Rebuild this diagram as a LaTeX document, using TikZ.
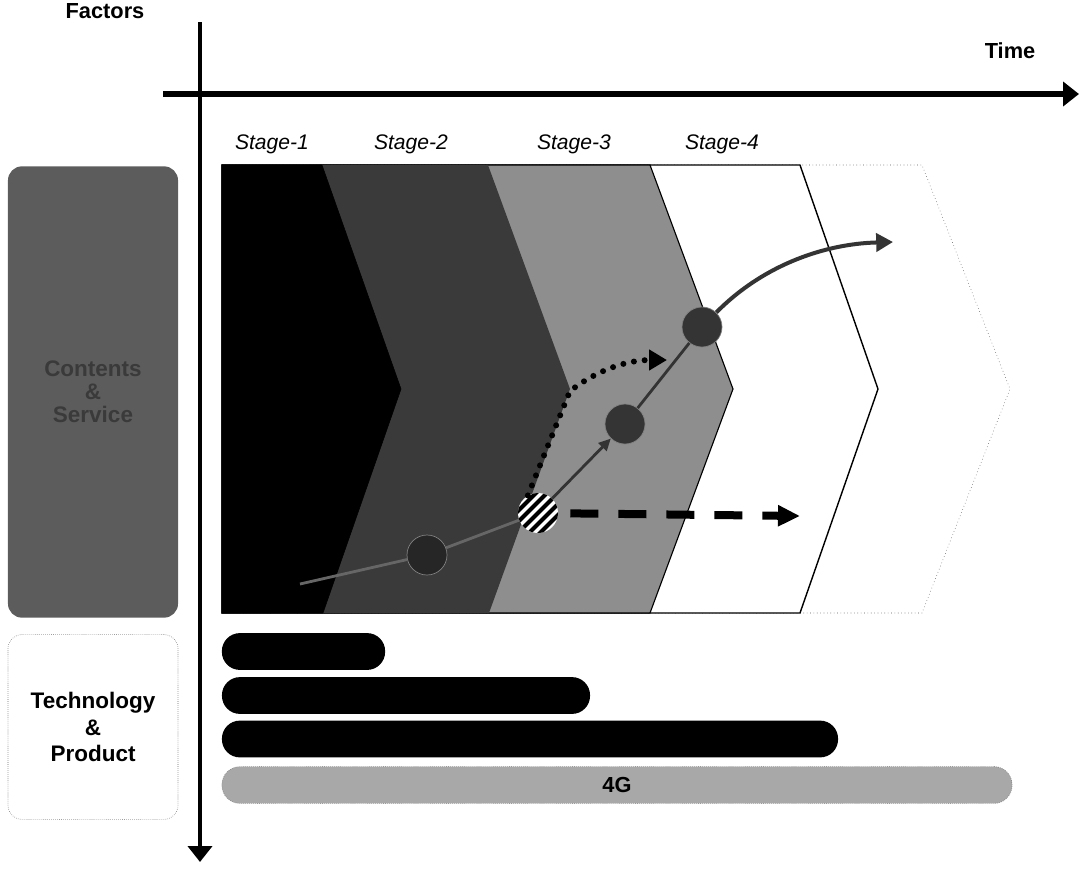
\documentclass[tikz,border=0pt]{standalone}
\usepackage{fontspec}
\setmainfont{Liberation Sans}
\usetikzlibrary{arrows.meta}
\definecolor{boxgray}{RGB}{92,92,92}
\definecolor{txtgray}{RGB}{58,58,58}
\definecolor{stagetwo}{RGB}{58,58,58}
\definecolor{stagethree}{RGB}{142,142,142}
\definecolor{dotgray}{RGB}{52,52,52}
\definecolor{bargray}{RGB}{168,168,168}

\begin{document}
\begin{tikzpicture}[x=0.025cm, y=-0.025cm, font=\fontsize{15}{18}\selectfont,
  axis/.style={line width=0.15cm, -{Triangle[length=0.4cm,width=0.6cm]}},
  lbl/.style={font=\fontsize{15.5}{18}\selectfont\bfseries, anchor=base},
  stg/.style={font=\fontsize{15}{18}\selectfont\itshape, anchor=base},
  side/.style={rounded corners=0.35cm, minimum width=4.25cm, align=center, inner sep=0pt},
  dot/.style={circle, fill=dotgray, draw=black!50, line width=0.5pt, minimum size=1cm, inner sep=0pt},
  hatch/.style={circle, fill=white, minimum size=1cm, inner sep=0pt,
    path picture={\foreach \k in {-33,-22,...,33}
      \draw[line width=0.1cm, shift={(path picture bounding box.center)}] (\k-30,30) -- (\k+30,-30);}},
  bar/.style={fill=black, rounded corners=0.45cm, minimum height=0.92cm, inner sep=0pt},
  link/.style={line width=0.07cm, draw=black!80},
  faint/.style={line width=0.07cm, draw=black!60},
  dots/.style={line width=0.15cm, line cap=round, dash pattern=on 0pt off 0.27cm, -{Triangle[length=0.45cm,width=0.5cm]}},
  dsh/.style={line width=0.2cm, dash pattern=on 0.7cm off 0.5cm, -{Triangle[length=0.55cm,width=0.5cm]}}]
\useasboundingbox (0,0) rectangle (1081,871);
% axes
\coordinate (vtop) at (200,22);
\coordinate (vbot) at (200,862);
\coordinate (hl) at (163,94);
\coordinate (hr) at (1079,94);
\draw[axis, line width=0.12cm] (vtop) -- (vbot);
\draw[axis] (hl) -- (hr);
\node[lbl] (fac) at (105,18) {Factors};
\node[lbl] (tim) at (1010,58) {Time};
% stage labels
\node[stg] (s1) at (272,149) {Stage-1};
\node[stg] (s2) at (411,149) {Stage-2};
\node[stg] (s3) at (574,149) {Stage-3};
\node[stg] (s4) at (722,149) {Stage-4};
% LEFT: factor boxes
\node[side, fill=boxgray, minimum height=11.28cm, text=txtgray,
  font=\fontsize{16}{16.5}\selectfont\bfseries] (cs) at (93,392) {Contents\\\&\\Service};
\node[side, draw=black!60, densely dotted, fill=white, minimum height=4.62cm,
  font=\fontsize{16}{19}\selectfont\bfseries] (tp) at (93,727) {Technology\\\&\\Product};
% chevrons, back to front
\draw[black!65, dotted, fill=white] (222,165) -- (922,165) -- (1010,389) -- (922,613) -- (222,613);
\draw[black, line width=1pt, fill=white] (222,165) -- (800,165) -- (878,389) -- (800,613) -- (222,613) -- cycle;
\draw[black, line width=0.8pt, fill=stagethree] (222,165) -- (650,165) -- (733,389) -- (650,613) -- (222,613) -- cycle;
\fill[stagetwo] (222,165) -- (488,165) -- (570,389) -- (489,613) -- (222,613) -- cycle;
\draw[black, fill=black] (222,165) -- (322,165) -- (401,389) -- (323,613) -- (222,613) -- cycle;
% path of stages
\node[dot, fill=black!85] (d1) at (427,555) {};
\node[hatch] (hs) at (538,513) {};
\node[dot] (d2) at (625,424) {};
\node[dot] (d3) at (702,327) {};
\coordinate (f0) at (300,584);
\coordinate (kn) at (570,391);
\coordinate (ta) at (667,360);
\coordinate (te) at (800,516);
\coordinate (tc) at (893,242);
\draw[faint] (f0) -- (d1);
\draw[faint] (d1) -- (hs);
\draw[link, -{Triangle[length=0.3cm,width=0.28cm]}] (hs) -- (d2);
\draw[link] (d2) -- (d3);
\draw[line width=0.1cm, draw=dotgray, -{Triangle[length=0.42cm,width=0.45cm]}]
  (d3) .. controls (760,268) and (820,244) .. (tc);
\draw[dots] (hs.120) -- (kn) .. controls (600,368) and (630,360) .. (ta);
\draw[dsh, shorten <=0.3cm] (hs) -- (te);
% bars
\foreach \n/\cx/\cy/\w in {1/303.5/651.5/4.08, 2/406/695.5/9.2, 3/530/739/15.4}
  {\node[bar, minimum width=\w cm] (b\n) at (\cx,\cy) {};}
\node[bar, fill=bargray, draw=black!55, densely dotted, minimum width=19.75cm,
  font=\fontsize{15.5}{18}\selectfont\bfseries] (g4) at (617,785) {4G};
\end{tikzpicture}
\end{document}
